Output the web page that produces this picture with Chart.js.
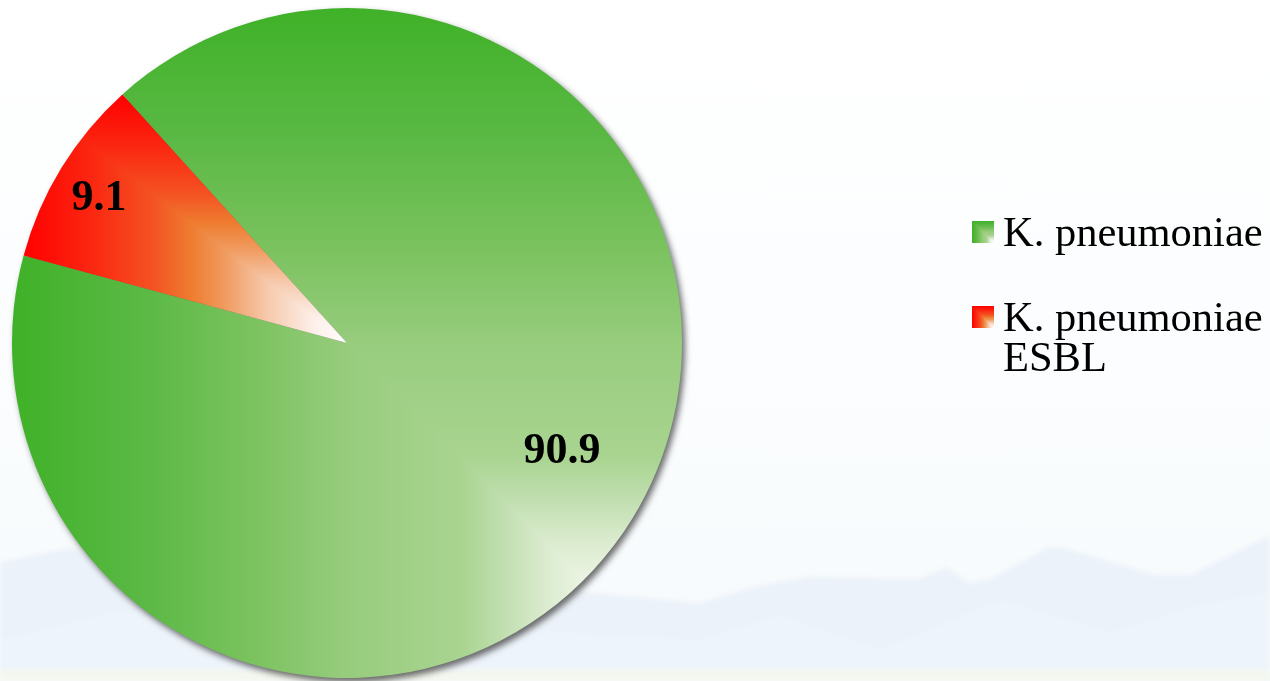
<!DOCTYPE html>
<html>
<head>
<meta charset="utf-8">
<script src="https://cdn.jsdelivr.net/npm/chart.js@4.4.1/dist/chart.umd.min.js"></script>
<style>
    html, body {
        margin: 0;
        padding: 0;
    }
    body {
        width: 1270px;
        height: 681px;
        overflow: hidden;
        position: relative;
        background: linear-gradient(to bottom, #ffffff 0%, #fbfdfe 55%, #f6fafc 100%);
        font-family: "Liberation Serif", "Times New Roman", serif;
    }
    .backdrop {
        position: absolute;
        left: 0;
        top: 0;
    }
    #chartBox {
        position: absolute;
        left: 0;
        top: 0;
    }
    #legend {
        position: absolute;
        left: 972px;
        top: 212px;
        width: 298px;
    }
    .legend-item {
        display: flex;
        align-items: flex-start;
        margin-bottom: 45px;
    }
    .legend-item canvas {
        flex: none;
        margin-top: 9px;
        margin-right: 9px;
    }
    .legend-item span {
        font-size: 42.5px;
        line-height: 40px;
        color: #000;
    }
</style>
</head>
<body>
<svg class="backdrop" width="1270" height="681" viewBox="0 0 1270 681">
    <defs>
        <filter id="soft" x="-5%" y="-20%" width="110%" height="140%">
            <feGaussianBlur stdDeviation="2.5"/>
        </filter>
    </defs>
    <g filter="url(#soft)">
        <polygon fill="#ebf2f9" points="0,562 70,548 150,570 260,560 400,575 560,590 700,603 758,586 809,577 918,579 947,567 969,583 991,579 1049,547 1064,548 1155,575 1191,575 1267,537 1270,537 1270,681 0,681"/>
        <polygon fill="#eef4fb" points="0,640 120,610 300,650 520,630 700,640 780,615 880,650 1000,600 1110,632 1200,605 1270,592 1270,681 0,681"/>
        <rect x="0" y="670" width="1270" height="11" fill="#f6f8e8" opacity="0.7"/>
    </g>
</svg>

<div id="chartBox">
    <canvas id="pieChart" width="700" height="681"></canvas>
</div>
<div id="legend"></div>

<script>
// Chart data
const categories = ['K. pneumoniae', 'K. pneumoniae ESBL'];
const shares = [90.9, 9.1];

// Look
const rotationDeg = -42.1;
const fallbackColors = ['#40b229', '#ff0000'];
const sliceStops = [
    [[0, '#ffffff'], [0.12, '#f3f8ec'], [0.2, '#dcecd0'], [0.27, '#bfdeae'], [0.33, '#a9d490'],
     [0.5, '#97cc7d'], [0.65, '#79c25d'], [0.8, '#5bb945'], [1, '#3fb128']],
    [[0, '#ffffff'], [0.1, '#fdf0ea'], [0.25, '#f6c8aa'], [0.38, '#f09a5e'], [0.48, '#ee7d30'],
     [0.6, '#f45222'], [0.8, '#fb2510'], [1, '#ff0000']]
];
const labelRadius = [0.714, 0.862];   // fraction of the pie radius
const labelShift = [-5.5, -0.7];      // degrees from the slice middle
const labelFontSize = 44;

/**
 * Paints a "from corner" gradient: colour depends on the larger of the
 * horizontal / vertical distance from the bottom-right corner of box.
 */
function paintCorner(g, box, stops) {
    const w = box.x1 - box.x0;
    const h = box.y1 - box.y0;
    const horiz = g.createLinearGradient(box.x1, 0, box.x0, 0);
    const vert = g.createLinearGradient(0, box.y1, 0, box.y0);
    stops.forEach(([t, c]) => {
        horiz.addColorStop(t, c);
        vert.addColorStop(t, c);
    });
    g.fillStyle = horiz;
    g.fillRect(box.x0 - w, box.y0 - h, 3 * w, 3 * h);
    g.save();
    g.beginPath();
    g.moveTo(box.x1 + w, box.y1 + h);
    g.lineTo(box.x0 - w, box.y0 - h);
    g.lineTo(box.x1 + 2 * w, box.y0 - 2 * h);
    g.closePath();
    g.clip();
    g.fillStyle = vert;
    g.fillRect(box.x0 - w, box.y0 - h, 3 * w, 3 * h);
    g.restore();
}

function sectorBox(cx, cy, r, a0, a1) {
    const xs = [cx, cx + r * Math.cos(a0), cx + r * Math.cos(a1)];
    const ys = [cy, cy + r * Math.sin(a0), cy + r * Math.sin(a1)];
    for (let k = -8; k <= 8; k++) {
        const t = k * Math.PI / 2;
        if (t > a0 && t < a1) {
            xs.push(cx + r * Math.cos(t));
            ys.push(cy + r * Math.sin(t));
        }
    }
    return { x0: Math.min(...xs), y0: Math.min(...ys), x1: Math.max(...xs), y1: Math.max(...ys) };
}

// builds one fill pattern per slice once the chart area is known
const cornerFill = {
    id: 'cornerFill',
    afterLayout(chart) {
        const area = chart.chartArea;
        const cx = (area.left + area.right) / 2;
        const cy = (area.top + area.bottom) / 2;
        const r = Math.min(area.width, area.height) / 2;
        const total = shares.reduce((s, v) => s + v, 0);
        let a = (-90 + rotationDeg) * Math.PI / 180;
        chart.$fills = shares.map((v, i) => {
            const a1 = a + 2 * Math.PI * v / total;
            const box = sectorBox(cx, cy, r, a, a1);
            a = a1;
            const off = document.createElement('canvas');
            off.width = chart.width;
            off.height = chart.height;
            paintCorner(off.getContext('2d'), box, sliceStops[i]);
            return chart.ctx.createPattern(off, 'no-repeat');
        });
    }
};

// soft shadow to the lower right of the pie
const pieShadow = {
    id: 'pieShadow',
    beforeDatasetsDraw(chart) {
        const arc = chart.getDatasetMeta(0).data[0];
        if (!arc) return;
        const { x, y, outerRadius } = arc.getProps(['x', 'y', 'outerRadius'], true);
        const ctx = chart.ctx;
        const far = 5000;
        ctx.save();
        ctx.shadowColor = 'rgba(70, 70, 70, 0.8)';
        ctx.shadowBlur = 6;
        ctx.shadowOffsetX = far + 3;
        ctx.shadowOffsetY = 4;
        ctx.beginPath();
        ctx.arc(x - far, y, outerRadius, 0, Math.PI * 2);
        ctx.fillStyle = '#000';
        ctx.fill();
        ctx.restore();
    }
};

// value labels inside the slices
const sliceLabels = {
    id: 'sliceLabels',
    afterDatasetsDraw(chart) {
        const ctx = chart.ctx;
        ctx.save();
        ctx.font = `bold ${labelFontSize}px "Liberation Serif", "Times New Roman", serif`;
        ctx.fillStyle = '#000000';
        ctx.textAlign = 'center';
        ctx.textBaseline = 'alphabetic';
        chart.getDatasetMeta(0).data.forEach((arc, i) => {
            const p = arc.getProps(['x', 'y', 'startAngle', 'endAngle', 'outerRadius'], true);
            const a = (p.startAngle + p.endAngle) / 2 + labelShift[i] * Math.PI / 180;
            const r = p.outerRadius * labelRadius[i];
            const lx = p.x + Math.cos(a) * r;
            const ly = p.y + Math.sin(a) * r + labelFontSize * 0.338;
            ctx.fillText(shares[i].toFixed(1), lx, ly);
        });
        ctx.restore();
    }
};

const pieConfig = {
    type: 'pie',
    data: {
        labels: categories,
        datasets: [{
            data: shares,
            backgroundColor: (c) => c.chart.$fills ? c.chart.$fills[c.dataIndex] : fallbackColors[c.dataIndex],
            borderWidth: 0,
            hoverOffset: 0
        }]
    },
    options: {
        responsive: false,
        animation: false,
        events: [],
        rotation: rotationDeg,
        layout: {
            padding: { left: 12, top: 8, right: 18, bottom: 3 }
        },
        plugins: {
            legend: { display: false },
            tooltip: { enabled: false }
        }
    },
    plugins: [cornerFill, pieShadow, sliceLabels]
};

const ctx = document.getElementById('pieChart').getContext('2d');
const pieChart = new Chart(ctx, pieConfig);

// legend on the right, built from the same labels
const legendBox = document.getElementById('legend');
categories.forEach((name, i) => {
    const item = document.createElement('div');
    item.className = 'legend-item';
    const swatch = document.createElement('canvas');
    swatch.width = 22;
    swatch.height = 22;
    paintCorner(swatch.getContext('2d'), { x0: 0, y0: 0, x1: 22, y1: 22 }, sliceStops[i]);
    const text = document.createElement('span');
    text.textContent = name;
    item.appendChild(swatch);
    item.appendChild(text);
    legendBox.appendChild(item);
});
</script>
</body>
</html>
